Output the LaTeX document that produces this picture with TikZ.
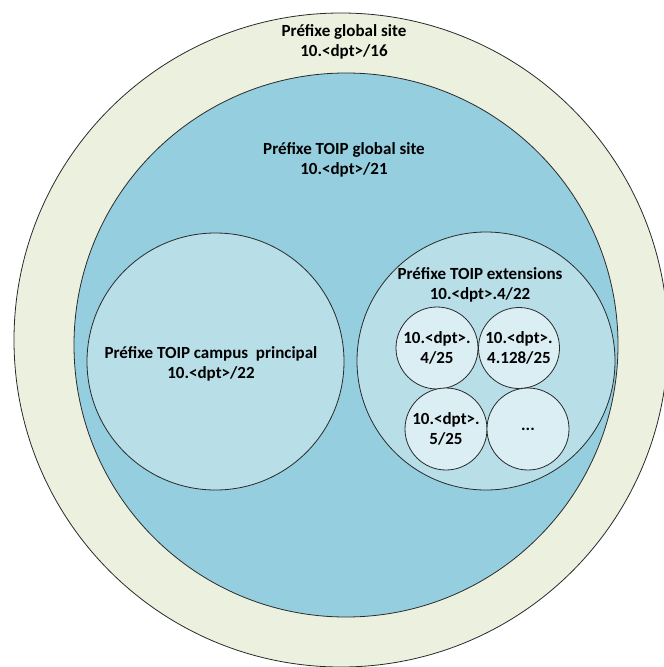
\documentclass[tikz,border=0pt]{standalone}
\usepackage{fontspec}
\setmainfont{Carlito}
\definecolor{outerfill}{HTML}{EBF1DE}
\definecolor{midfill}{HTML}{95CEDE}
\definecolor{innerfill}{HTML}{B8DEE8}
\definecolor{smallfill}{HTML}{DAEEF3}
\definecolor{edgecol}{HTML}{2A2A2A}
\tikzset{
  ring/.style={circle, draw=edgecol, line width=0.8pt, inner sep=0pt},
  lbl/.style={align=center, inner sep=0pt, font=\fontsize{17}{20}\selectfont\bfseries, text=black}
}
\begin{document}
\begin{tikzpicture}[x=1pt,y=-1pt]
\useasboundingbox (0,0) rectangle (664,667);
\begin{scope}
\clip (0,0) rectangle (664,667);
\node[ring, fill=outerfill, minimum size=654pt] (glob) at (341,340) {};
\node[ring, fill=midfill, minimum size=544pt] (toip) at (346,345) {};
\node[ring, fill=innerfill, minimum size=257pt] (campus) at (215.5,361.5) {};
\node[ring, fill=innerfill, minimum size=258pt] (ext) at (486,361) {};
\node[ring, fill=smallfill, minimum size=82pt] (s1) at (437,348) {};
\node[ring, fill=smallfill, minimum size=81pt] (s2) at (519,348) {};
\node[ring, fill=smallfill, minimum size=82pt] (s3) at (446,429) {};
\node[ring, fill=smallfill, minimum size=82pt] (s4) at (528,429) {};
\end{scope}
\node[lbl] (tglob) at (344,42) {Préfixe global site\\10.<dpt>/16};
\node[lbl] (ttoip) at (344,160) {Préfixe TOIP global site\\10.<dpt>/21};
\node[lbl] (tcampus) at (211,363.5) {Préfixe TOIP campus\ \ principal\\10.<dpt>/22};
\node[lbl] (text) at (480,285) {Préfixe TOIP extensions\\10.<dpt>.4/22};
\node[lbl] (ts1) at (s1) {10.<dpt>.\\4/25};
\node[lbl] (ts2) at (s2) {10.<dpt>.\\4.128/25};
\node[lbl] (ts3) at (s3) {10.<dpt>.\\5/25};
\node[lbl] (ts4) at (s4) {...};
\end{tikzpicture}
\end{document}
